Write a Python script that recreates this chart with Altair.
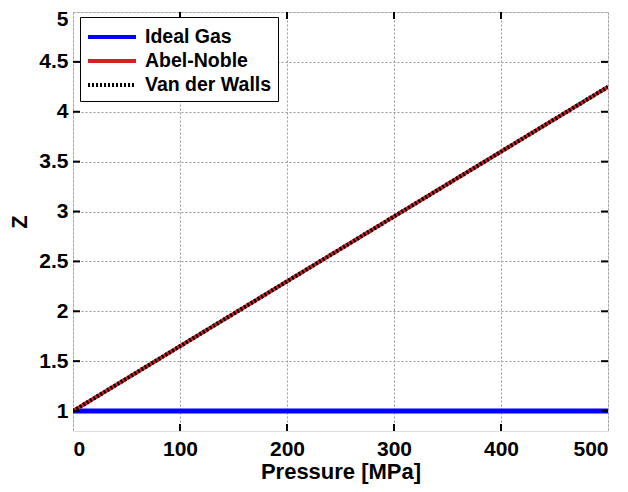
import altair as alt
import pandas as pd

pressure = [0, 100, 200, 300, 400, 500]
ideal_gas = [1.0, 1.0, 1.0, 1.0, 1.0, 1.0]
abel_noble = [1.0, 1.65, 2.30, 2.95, 3.60, 4.25]
van_der_walls = [1.0, 1.65, 2.30, 2.95, 3.60, 4.25]
series_names = ["Ideal Gas", "Abel-Noble", "Van der Walls"]
series_colors = ["#0000ff", "#d42020", "#000000"]
x_ticks = [0, 100, 200, 300, 400, 500]
y_ticks = [1, 1.5, 2, 2.5, 3, 3.5, 4, 4.5, 5]

rows = []
for name, vals in zip(series_names, [ideal_gas, abel_noble, van_der_walls]):
    for p, z in zip(pressure, vals):
        rows.append({"Pressure": p, "Z": z, "Series": name})
df = pd.DataFrame(rows)

FONT = "Liberation Sans"
W, H = 535, 419
xs = alt.Scale(domain=[0, 500], nice=False)
ys = alt.Scale(domain=[0.8, 5], nice=False)

color = alt.Color("Series:N", scale=alt.Scale(domain=series_names, range=series_colors),
                  legend=alt.Legend(title=None, orient="none", legendX=7, legendY=5,
                                    symbolType="M-1,0H3", symbolSize=576, symbolStrokeWidth=4,
                                    labelFont=FONT, labelFontSize=19.5, labelFontWeight="bold",
                                    labelColor="black", fillColor="white", strokeColor="black",
                                    padding=6, rowPadding=0, labelLimit=300, labelOffset=31))
dash = alt.StrokeDash("Series:N", scale=alt.Scale(domain=series_names,
                                                  range=[[1, 0], [1, 0], [2, 2]]),
                      legend=alt.Legend(title=None, orient="none", legendX=7, legendY=5))

common = dict(ticks=False, grid=True, gridDash=[2, 2], gridColor="#999",
              labelFont=FONT, labelFontSize=21, labelFontWeight="bold", labelColor="black",
              titleFont=FONT, titleFontSize=22, titleFontWeight="bold", titleColor="black",
              domain=False)
xax = alt.Axis(values=x_ticks, format="d", labelPadding=7, title="Pressure [MPa]",
               titlePadding=2, **common)
yax = alt.Axis(values=y_ticks, format="~g", labelPadding=5, title="Z", titlePadding=7,
               labelFlush=True, labelFlushOffset=4, **common)

def layer(name, width):
    return alt.Chart(df).transform_filter(alt.datum.Series == name).mark_line(
        strokeWidth=width, clip=True).encode(
        x=alt.X("Pressure:Q", scale=xs, axis=xax),
        y=alt.Y("Z:Q", scale=ys, axis=yax),
        color=color, strokeDash=dash)

# inward ticks
xt = pd.DataFrame({"x": x_ticks[1:-1]})
yt = pd.DataFrame({"y": y_ticks[:-1]})
tick_bottom = alt.Chart(xt).mark_rule(color="black", strokeWidth=2).encode(
    x=alt.X("x:Q", scale=xs), y=alt.value(H), y2=alt.value(H - 7))
tick_top = alt.Chart(xt).mark_rule(color="black", strokeWidth=2).encode(
    x=alt.X("x:Q", scale=xs), y=alt.value(0), y2=alt.value(7))
tick_left = alt.Chart(yt).mark_rule(color="black", strokeWidth=2).encode(
    y=alt.Y("y:Q", scale=ys), x=alt.value(0), x2=alt.value(7))
tick_right = alt.Chart(yt).mark_rule(color="black", strokeWidth=2).encode(
    y=alt.Y("y:Q", scale=ys), x=alt.value(W), x2=alt.value(W - 7))

chart = alt.layer(
    layer("Ideal Gas", 5), layer("Abel-Noble", 4), layer("Van der Walls", 4),
    tick_bottom, tick_top, tick_left, tick_right
).properties(
    width=W, height=H,
    autosize=alt.AutoSizeParams(type="none"),
    padding={"left": 65, "top": 4, "right": 4, "bottom": 55}
).configure_view(stroke="black", strokeWidth=2.5).configure(background="white")

chart.save("out.html", embed_options={"renderer": "svg", "actions": False})
